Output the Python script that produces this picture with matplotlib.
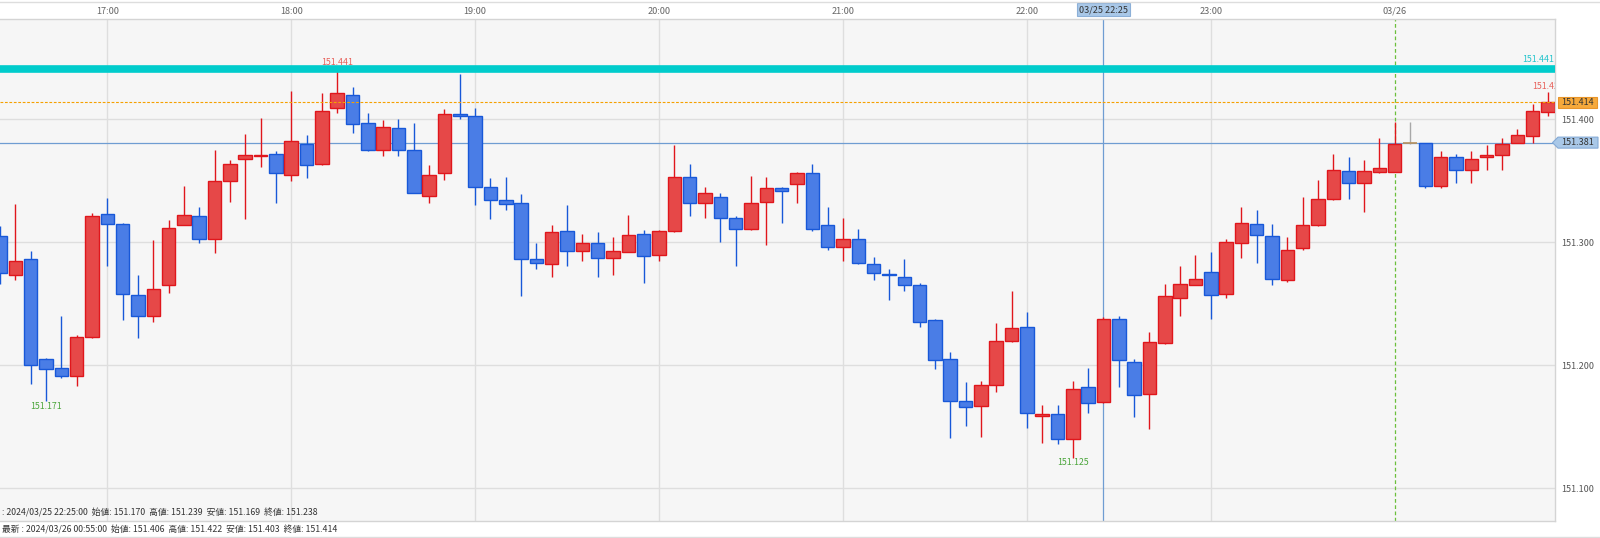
import matplotlib
matplotlib.use('Agg')
import matplotlib.pyplot as plt
import matplotlib.transforms as mtransforms
from matplotlib.patches import Polygon
from matplotlib.lines import Line2D

plt.rcParams['font.family'] = ['Noto Sans CJK JP', 'DejaVu Sans']

# ── 5分足 OHLC (16:25 〜 00:55) ─────────────────────────────
opens = [151.305, 151.273, 151.286, 151.205, 151.198, 151.191, 151.223, 151.323, 151.315, 151.257,
         151.240, 151.265, 151.314, 151.321, 151.303, 151.350, 151.368, 151.370, 151.372, 151.355,
         151.380, 151.364, 151.409, 151.420, 151.397, 151.375, 151.393, 151.375, 151.338, 151.356,
         151.404, 151.403, 151.345, 151.334, 151.332, 151.286, 151.282, 151.309, 151.293, 151.299,
         151.287, 151.292, 151.307, 151.290, 151.309, 151.353, 151.332, 151.337, 151.320, 151.311,
         151.333, 151.344, 151.347, 151.356, 151.314, 151.296, 151.303, 151.282, 151.274, 151.272,
         151.265, 151.237, 151.205, 151.171, 151.167, 151.184, 151.220, 151.231, 151.159, 151.160,
         151.140, 151.182, 151.170, 151.238, 151.203, 151.177, 151.218, 151.255, 151.265, 151.276,
         151.258, 151.299, 151.315, 151.305, 151.269, 151.295, 151.314, 151.335, 151.358, 151.348,
         151.357, 151.357, 151.381, 151.381, 151.346, 151.369, 151.359, 151.369, 151.371, 151.381,
         151.386, 151.406]
highs = [151.313, 151.331, 151.293, 151.206, 151.240, 151.225, 151.324, 151.336, 151.316, 151.273,
         151.302, 151.318, 151.346, 151.329, 151.375, 151.367, 151.388, 151.401, 151.374, 151.423,
         151.387, 151.421, 151.441, 151.426, 151.405, 151.399, 151.400, 151.397, 151.363, 151.408,
         151.437, 151.409, 151.352, 151.353, 151.339, 151.299, 151.314, 151.330, 151.307, 151.308,
         151.304, 151.322, 151.310, 151.310, 151.379, 151.364, 151.345, 151.340, 151.321, 151.354,
         151.353, 151.345, 151.357, 151.364, 151.329, 151.320, 151.311, 151.288, 151.278, 151.286,
         151.267, 151.238, 151.211, 151.186, 151.187, 151.234, 151.260, 151.243, 151.168, 151.168,
         151.187, 151.198, 151.239, 151.240, 151.205, 151.227, 151.266, 151.281, 151.290, 151.292,
         151.303, 151.329, 151.326, 151.315, 151.304, 151.337, 151.351, 151.372, 151.369, 151.367,
         151.385, 151.398, 151.398, 151.381, 151.374, 151.372, 151.374, 151.379, 151.385, 151.392,
         151.412, 151.422]
lows = [151.266, 151.269, 151.185, 151.171, 151.190, 151.183, 151.222, 151.281, 151.237, 151.222,
        151.235, 151.259, 151.314, 151.299, 151.291, 151.333, 151.319, 151.361, 151.332, 151.350,
        151.352, 151.363, 151.405, 151.389, 151.374, 151.370, 151.370, 151.340, 151.332, 151.351,
        151.400, 151.330, 151.319, 151.326, 151.256, 151.278, 151.272, 151.281, 151.285, 151.272,
        151.273, 151.292, 151.267, 151.285, 151.308, 151.321, 151.320, 151.300, 151.281, 151.310,
        151.298, 151.316, 151.332, 151.309, 151.294, 151.285, 151.282, 151.269, 151.253, 151.260,
        151.231, 151.197, 151.141, 151.151, 151.142, 151.178, 151.219, 151.149, 151.137, 151.136,
        151.125, 151.161, 151.169, 151.182, 151.158, 151.148, 151.217, 151.240, 151.265, 151.238,
        151.255, 151.287, 151.283, 151.265, 151.268, 151.294, 151.313, 151.334, 151.335, 151.325,
        151.356, 151.357, 151.380, 151.344, 151.344, 151.348, 151.348, 151.359, 151.359, 151.381,
        151.381, 151.403]
closes = [151.275, 151.285, 151.200, 151.197, 151.191, 151.223, 151.321, 151.315, 151.258, 151.240,
          151.262, 151.312, 151.322, 151.303, 151.350, 151.364, 151.371, 151.371, 151.356, 151.382,
          151.363, 151.407, 151.421, 151.396, 151.375, 151.394, 151.375, 151.340, 151.355, 151.404,
          151.403, 151.345, 151.334, 151.331, 151.286, 151.283, 151.308, 151.293, 151.299, 151.287,
          151.293, 151.306, 151.289, 151.309, 151.353, 151.332, 151.340, 151.320, 151.311, 151.332,
          151.344, 151.342, 151.356, 151.311, 151.296, 151.303, 151.283, 151.275, 151.273, 151.265,
          151.235, 151.204, 151.171, 151.166, 151.184, 151.220, 151.230, 151.161, 151.160, 151.140,
          151.181, 151.169, 151.238, 151.204, 151.176, 151.219, 151.256, 151.266, 151.270, 151.257,
          151.300, 151.316, 151.306, 151.270, 151.294, 151.314, 151.335, 151.359, 151.348, 151.358,
          151.360, 151.380, 151.381, 151.346, 151.369, 151.359, 151.368, 151.371, 151.380, 151.387,
          151.407, 151.414]

hour_idx = [7, 19, 31, 43, 55, 67, 79, 91]
hour_labels = ['17:00', '18:00', '19:00', '20:00', '21:00', '22:00', '23:00', '03/26']
price_ticks = [151.1, 151.2, 151.3, 151.4]
price_labels = ['151.100', '151.200', '151.300', '151.400']

high_marks = [22, 101]
low_marks = [3, 70]

cursor_idx = 72
cursor_label = '03/25 22:25'
cursor_price = 151.381
last_price = 151.414
resist_price = 151.441

info_cursor = ': 2024/03/25 22:25:00  始値: 151.170  高値: 151.239  安値: 151.169  終値: 151.238'
info_latest = '最新 : 2024/03/26 00:55:00  始値: 151.406  高値: 151.422  安値: 151.403  終値: 151.414'

# ── 色 ────────────────────────────────────────────────
UP_FILL, UP_EDGE = '#e64848', '#e0161c'
DN_FILL, DN_EDGE = '#4a7de6', '#1858d8'
GRID = '#dedede'
CROSS = '#6f9dd2'

fig = plt.figure(figsize=(16, 5.38), dpi=100)
ax = fig.add_axes([0, 17 / 538, 1555 / 1600, 502 / 538])
ax.set_facecolor('#f6f6f6')
ax.set_xlim(0, 101.46)
ax.set_ylim(151.0734, 151.4815)

# グリッド
for h in hour_idx[:-1]:
    ax.axvline(h, color=GRID, lw=1, zorder=0)
ax.axvline(hour_idx[-1], color='#6cbf3c', lw=0.9, ls=(0, (3, 2)), zorder=0.5)
for p in price_ticks:
    ax.axhline(p, color=GRID, lw=1, zorder=0)

# カーソル線
ax.axhline(cursor_price, color=CROSS, lw=0.9, zorder=1.5)
ax.axvline(cursor_idx, color=CROSS, lw=0.9, zorder=1.5)

# ローソク足
for i, (o, h, l, c) in enumerate(zip(opens, highs, lows, closes)):
    if c > o:
        fill, edge = UP_FILL, UP_EDGE
    elif c < o:
        fill, edge = DN_FILL, DN_EDGE
    else:
        ax.vlines(i, l, h, color='#a8a8a8', lw=1, zorder=2)
        ax.hlines(o, i - 0.44, i + 0.44, color='#b8905a', lw=1.2, zorder=3)
        continue
    ax.vlines(i, l, h, color=edge, lw=1, zorder=2)
    ax.bar(i, max(abs(c - o), 0.0012), bottom=min(o, c), width=0.88,
           color=fill, edgecolor=edge, linewidth=1, zorder=3)

# 高値・安値ラベル
for i in high_marks:
    ax.annotate(f'{highs[i]:.3f}', (i, highs[i]), xytext=(0, 1.2), textcoords='offset points',
                ha='center', va='bottom', color='#e8605a', fontsize=6.3, zorder=3.5, clip_on=True)
for i in low_marks:
    ax.annotate(f'{lows[i]:.3f}', (i, lows[i]), xytext=(0, -0.6), textcoords='offset points',
                ha='center', va='top', color='#4aa53a', fontsize=6.3, zorder=3.5, clip_on=True)

# 水平線
ax.axhline(resist_price, color='#00cccc', lw=5.5, zorder=4)
ax.axhline(last_price, color='#f5a000', lw=0.8, ls=(0, (2.5, 1.5)), zorder=4)
ty = mtransforms.blended_transform_factory(ax.transAxes, ax.transData)
ax.annotate(f'{resist_price:.3f}', (1, resist_price), xycoords=ty, xytext=(-1, 3.6),
            textcoords='offset points', ha='right', va='bottom', color='#22c4cc', fontsize=6.3)

# 軸
ax.xaxis.tick_top()
ax.set_xticks(hour_idx, hour_labels)
ax.tick_params(axis='x', length=0, pad=2.2, labelsize=6.6, labelcolor='#666666')
ax.yaxis.tick_right()
ax.set_yticks(price_ticks, price_labels)
ax.tick_params(axis='y', length=0, pad=4.5, labelsize=6.5, labelcolor='#555555')
for name, sp in ax.spines.items():
    sp.set_color('#d4d4d4')
    sp.set_linewidth(1)
ax.spines['left'].set_visible(False)

# カーソル時刻ラベル
tx = mtransforms.blended_transform_factory(ax.transData, ax.transAxes)
ax.text(cursor_idx, 1 + 9.5 / 502, cursor_label, transform=tx, ha='center', va='center',
        fontsize=6.5, color='#333333', clip_on=False, zorder=6,
        bbox=dict(boxstyle='square,pad=0.25', fc='#a9c8e8', ec='#8cb0d8', lw=0.8))

# 右側の価格ラベル
tr = mtransforms.blended_transform_factory(fig.transFigure, ax.transData)
hh = 5.5 / 1230
ax.add_patch(Polygon([(1558 / 1600, last_price - hh), (1597 / 1600, last_price - hh),
                      (1597 / 1600, last_price + hh), (1558 / 1600, last_price + hh)],
                     closed=True, transform=tr, fc='#f6a93b', ec='#e8952a', lw=0.8,
                     clip_on=False, zorder=6))
ax.text(1561 / 1600, last_price, f'{last_price:.3f}', transform=tr, ha='left', va='center',
        fontsize=6.5, color='#333333', clip_on=False, zorder=7)
ax.add_patch(Polygon([(1552.5 / 1600, cursor_price), (1558 / 1600, cursor_price + hh),
                      (1598 / 1600, cursor_price + hh), (1598 / 1600, cursor_price - hh),
                      (1558 / 1600, cursor_price - hh)],
                     closed=True, transform=tr, fc='#a9c8e8', ec='#84aad6', lw=0.8,
                     clip_on=False, zorder=6))
ax.text(1561 / 1600, cursor_price, f'{cursor_price:.3f}', transform=tr, ha='left', va='center',
        fontsize=6.5, color='#333333', clip_on=False, zorder=7)

# 枠線・情報テキスト
fig.add_artist(Line2D([0, 1], [1 - 1.7 / 538, 1 - 1.7 / 538], color='#dddddd', lw=1))
fig.add_artist(Line2D([0, 1], [1.3 / 538, 1.3 / 538], color='#dddddd', lw=1))
fig.text(0.0012, 1 - 513 / 538, info_cursor, fontsize=6.3, color='#333333', va='center')
fig.text(0.0012, 1 - 529.5 / 538, info_latest, fontsize=6.3, color='#333333', va='center')

fig.savefig('out.png', dpi=100, facecolor='white')
plt.close(fig)
